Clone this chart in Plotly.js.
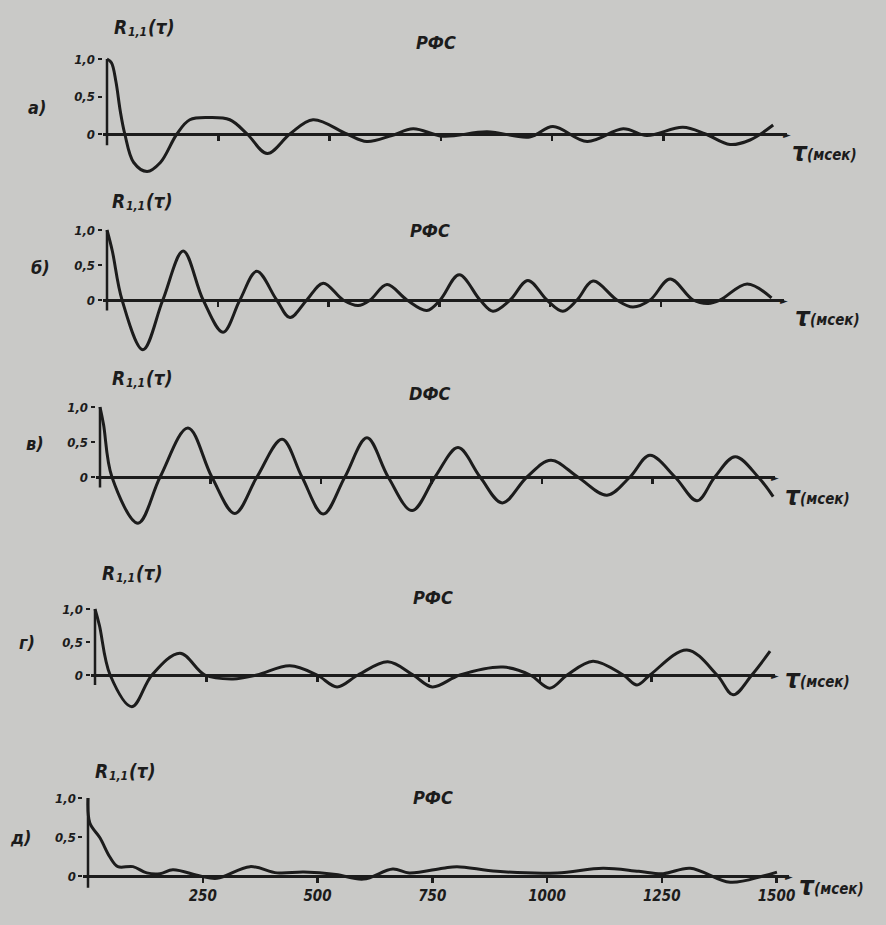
<!DOCTYPE html>
<html><head><meta charset="utf-8">
<script src="https://cdn.plot.ly/plotly-3.0.1.min.js"></script>
<style>html,body{margin:0;padding:0;background:#c9c9c7;}</style>
</head><body>
<div id="chart" style="width:886px;height:925px;"></div>
<script>
// ---- data (τ in ms, R values) ----
const t_a = [0, 10, 20, 30, 40, 60, 90, 120, 157, 186, 230, 276, 315, 360, 411, 463, 539, 584, 640, 688, 755, 854, 950, 1002, 1079, 1160, 1213, 1294, 1345, 1400, 1445, 1497];
const r_a = [1.0, 0.95, 0.7, 0.3, 0.0, -0.38, -0.5, -0.38, 0.0, 0.19, 0.22, 0.19, 0.0, -0.26, 0.0, 0.19, 0.0, -0.1, -0.02, 0.07, -0.03, 0.03, -0.04, 0.1, -0.1, 0.07, -0.02, 0.09, 0.0, -0.14, -0.08, 0.12];

const t_b = [0, 12, 34, 81, 126, 172, 217, 262, 300, 338, 383, 413, 451, 488, 533, 567, 594, 632, 677, 722, 752, 795, 842, 871, 910, 950, 993, 1029, 1061, 1097, 1151, 1187, 1226, 1271, 1323, 1357, 1384, 1445, 1500];
const r_b = [1.0, 0.7, 0.0, -0.71, 0.0, 0.70, 0.0, -0.46, 0.0, 0.41, 0.0, -0.25, 0.0, 0.24, 0.0, -0.08, 0.0, 0.22, 0.0, -0.15, 0.0, 0.36, 0.0, -0.16, 0.0, 0.28, 0.0, -0.16, 0.0, 0.27, 0.0, -0.1, 0.0, 0.30, 0.0, -0.05, 0.0, 0.23, 0.03];

const t_v = [0, 8, 27, 86, 136, 199, 253, 305, 355, 412, 457, 505, 554, 604, 652, 706, 758, 810, 860, 910, 966, 1020, 1081, 1147, 1199, 1244, 1301, 1351, 1391, 1437, 1489, 1523];
const r_v = [1.0, 0.75, 0.0, -0.66, 0.0, 0.70, 0.0, -0.52, 0.0, 0.54, 0.0, -0.53, 0.0, 0.56, 0.0, -0.48, 0.0, 0.42, 0.0, -0.37, 0.0, 0.24, 0.0, -0.26, 0.0, 0.31, 0.0, -0.34, 0.0, 0.29, 0.0, -0.28];

const t_g = [0, 10, 34, 83, 128, 191, 247, 310, 364, 438, 499, 544, 591, 658, 715, 758, 820, 917, 978, 1022, 1061, 1119, 1187, 1218, 1247, 1330, 1398, 1434, 1476, 1517];
const r_g = [1.0, 0.75, 0.0, -0.48, 0.0, 0.33, 0.0, -0.06, 0.0, 0.14, 0.0, -0.18, 0.0, 0.2, 0.0, -0.18, 0.0, 0.12, 0.0, -0.2, 0.0, 0.21, 0.0, -0.15, 0.0, 0.38, 0.0, -0.3, 0.0, 0.36];

const t_d = [0, 4, 26, 48, 65, 98, 128, 157, 185, 244, 281, 353, 412, 470, 540, 600, 664, 700, 773, 804, 891, 1022, 1122, 1200, 1253, 1312, 1399, 1471, 1501];
const r_d = [1.0, 0.68, 0.49, 0.24, 0.12, 0.12, 0.04, 0.03, 0.08, 0.0, -0.03, 0.12, 0.04, 0.05, 0.02, -0.04, 0.09, 0.04, 0.1, 0.12, 0.06, 0.04, 0.1, 0.06, 0.03, 0.1, -0.08, 0.0, 0.05];

const panelLetters = ['а)', 'б)', 'в)', 'г)', 'д)'];
const panelTitles = ['РФС', 'РФС', 'DФС', 'РФС', 'РФС'];
const yTickVals = [0, 0.5, 1.0];
const yTickText = ['0', '0,5', '1,0'];
const xTickVals = [250, 500, 750, 1000, 1250, 1500];
const xTickText = ['250', '500', '750', '1000', '1250', '1500'];

// ---- layout geometry (pixels) ----
const W = 886, H = 925;
const geo = [
  {x0:107, k:0.445, z:134, s:75, ymin:-0.8, R:[112,27], T:[436,43], L:[37,107], U:[790,153]},
  {x0:107, k:0.443, z:300, s:70, ymin:-0.8, R:[110,201], T:[430,230], L:[40,268], U:[793,318]},
  {x0:100, k:0.442, z:477, s:70, ymin:-0.8, R:[110,378], T:[430,393], L:[35,443], U:[783,497]},
  {x0:95,  k:0.445, z:675, s:66, ymin:-0.8, R:[100,573], T:[433,597], L:[27,642], U:[783,680]},
  {x0:88,  k:0.459, z:876, s:78, ymin:-0.3, R:[93,771],  T:[433,797], L:[20,837], U:[797,887]}
];
const series = [[t_a, r_a], [t_b, r_b], [t_v, r_v], [t_g, r_g], [t_d, r_d]];
const XMIN = -10, XMAX = 1528, YMAX = 1.15;

const FONT = '"DejaVu Sans Condensed", "Liberation Sans Narrow", "DejaVu Sans", sans-serif';
const INK = '#1c1c1c';
const fnt = (size) => ({family: FONT, size: size, color: INK, weight: 'bold', style: 'italic'});

const data = [];
const layout = {
  width: W, height: H,
  margin: {l:0, r:0, t:0, b:0},
  paper_bgcolor: '#c9c9c7', plot_bgcolor: '#c9c9c7',
  showlegend: false,
  annotations: [], shapes: []
};

geo.forEach((g, i) => {
  const n = i === 0 ? '' : String(i + 1);
  const xa = 'xaxis' + n, ya = 'yaxis' + n;
  const xr = 'x' + n, yr = 'y' + n;
  const left = g.x0 + g.k * XMIN, right = g.x0 + g.k * XMAX;
  const top = g.z - YMAX * g.s, bottom = g.z - g.ymin * g.s;
  const isLast = i === geo.length - 1;

  data.push({
    type: 'scatter', mode: 'lines',
    x: series[i][0], y: series[i][1],
    xaxis: xr, yaxis: yr,
    line: {color: INK, width: 3, shape: 'spline', smoothing: 1},
    hoverinfo: 'skip'
  });

  layout[xa] = {
    domain: [left / W, right / W],
    range: [XMIN, XMAX],
    anchor: 'free', position: 1 - g.z / H,
    showline: true, linecolor: INK, linewidth: 2.5,
    showgrid: false, zeroline: false,
    ticks: 'outside', ticklen: 5, tickwidth: 2.5, tickcolor: INK,
    tickvals: isLast ? xTickVals : xTickVals.slice(0, 5),
    ticktext: xTickText,
    showticklabels: isLast,
    tickfont: fnt(15)
  };
  layout[ya] = {
    domain: [1 - bottom / H, 1 - top / H],
    range: [g.ymin, YMAX],
    anchor: xr,
    showline: false, showgrid: false, zeroline: false,
    ticks: 'outside', ticklen: 4, tickwidth: 2, tickcolor: INK,
    tickvals: yTickVals, ticktext: yTickText,
    tickfont: fnt(13)
  };

  // vertical axis line (from just below zero up to 1.0)
  layout.shapes.push({type:'line', xref: xr, yref: yr, x0: 0, x1: 0, y0: -0.15, y1: 1.0,
    line: {color: INK, width: 2.5}});

  // arrowhead glyph at the end of the time axis
  layout.annotations.push({xref: xr + ' domain', yref: yr, x: 1, y: 0, text: '►', showarrow: false,
    xanchor: 'center', yanchor: 'middle', font: {family: 'DejaVu Sans', size: 10, color: INK}});

  const P = (px, py) => ({x: px / W, y: 1 - py / H, xref: 'paper', yref: 'paper'});
  const add = (px, py, text, size, xanchor) => layout.annotations.push(Object.assign(P(px, py),
    {text: text, showarrow: false, xanchor: xanchor || 'left', yanchor: 'middle', font: fnt(size)}));

  // R_{1,1}(τ) built from plain pieces
  add(g.R[0], g.R[1], 'R', 19);
  add(g.R[0] + 14, g.R[1] + 5, '1,1', 12);
  add(g.R[0] + 34, g.R[1], '(τ)', 19);
  add(g.T[0], g.T[1], panelTitles[i], 18, 'center');
  add(g.L[0], g.L[1], panelLetters[i], 18, 'center');
  add(g.U[0], g.U[1] - 1, 'τ', 26);
  add(g.U[0] + 15, g.U[1] + 2, '(мсек)', 15);
});

Plotly.newPlot('chart', data, layout, {staticPlot: true, displayModeBar: false});
</script>
</body></html>
